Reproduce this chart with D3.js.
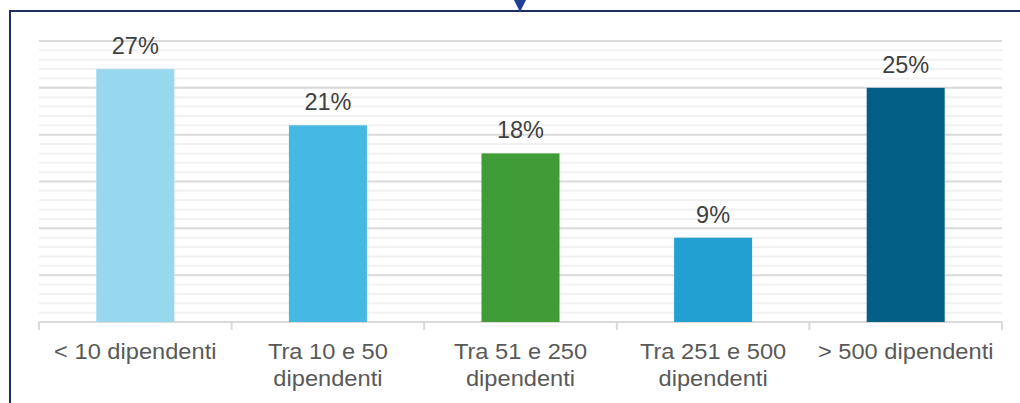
<!DOCTYPE html>
<html>
<head>
<meta charset="utf-8">
<script src="https://cdn.jsdelivr.net/npm/d3@7"></script>
<style>
  html, body { margin: 0; padding: 0; background: #ffffff; }
  svg { display: block; font-family: "Liberation Sans", Arial, sans-serif; }
</style>
</head>
<body>
<svg id="chart" width="1020" height="403"></svg>
<script>
// Company size bands (each label split into its display lines)
const categories = [
  ["< 10 dipendenti"],
  ["Tra 10 e 50", "dipendenti"],
  ["Tra 51 e 250", "dipendenti"],
  ["Tra 251 e 500", "dipendenti"],
  ["> 500 dipendenti"]
];
// Share of respondents per band
const values = [0.27, 0.21, 0.18, 0.09, 0.25];
const valueLabels = ["27%", "21%", "18%", "9%", "25%"];
const barColors = ["#98d8ef", "#45b9e3", "#3f9c36", "#22a0d1", "#035f85"];
// Gridline steps (1% minor, 5% major)
const gridTicks = d3.range(0, 31).map(d => d / 100);

const svg = d3.select("#chart");
const W = 1020, H = 403;
const plot = { left: 39, right: 1002, top: 41, bottom: 322 };

// Frame around the chart, with the pointer on its top edge
svg.append("path")
  .attr("d", `M1030,${11}H${10}V${H + 10}`)
  .attr("fill", "none")
  .attr("stroke", "#1e2f5e")
  .attr("stroke-width", 2);
svg.append("path")
  .attr("d", "M513.5,-1L526.5,-1L520,12Z")
  .attr("fill", "#1f3f99");

const x = d3.scaleBand()
  .domain(d3.range(categories.length))
  .range([plot.left, plot.right])
  .paddingInner(0.595)
  .paddingOuter(0.2975);

const y = d3.scaleLinear().domain([0, 0.30]).range([plot.bottom, plot.top]);

// Gridlines
svg.append("g")
  .selectAll("line")
  .data(gridTicks.filter(d => d > 0))
  .join("line")
  .attr("x1", plot.left)
  .attr("x2", plot.right)
  .attr("y1", d => y(d))
  .attr("y2", d => y(d))
  .attr("stroke", d => Math.round(d * 100) % 5 === 0 ? "#d9d9d9" : "#f1f1f1")
  .attr("stroke-width", 2);

// Category axis: baseline with boundary ticks
const bounds = d3.range(categories.length + 1).map(i =>
  plot.left + i * (plot.right - plot.left) / categories.length);
svg.append("line")
  .attr("x1", plot.left).attr("x2", plot.right)
  .attr("y1", plot.bottom).attr("y2", plot.bottom)
  .attr("stroke", "#d9d9d9").attr("stroke-width", 2);
svg.append("g")
  .selectAll("line")
  .data(bounds)
  .join("line")
  .attr("x1", d => d).attr("x2", d => d)
  .attr("y1", plot.bottom).attr("y2", plot.bottom + 8)
  .attr("stroke", "#d9d9d9").attr("stroke-width", 2);

// Bars
svg.append("g")
  .selectAll("rect")
  .data(values)
  .join("rect")
  .attr("x", (d, i) => x(i))
  .attr("width", x.bandwidth())
  .attr("y", d => y(d))
  .attr("height", d => y(0) - y(d))
  .attr("fill", (d, i) => barColors[i]);

// Value labels
svg.append("g")
  .selectAll("text")
  .data(values)
  .join("text")
  .attr("x", (d, i) => x(i) + x.bandwidth() / 2)
  .attr("y", d => y(d) - 15)
  .attr("text-anchor", "middle")
  .attr("font-size", 23.5)
  .attr("fill", "#404040")
  .text((d, i) => valueLabels[i]);

// Category labels
const catG = svg.append("g")
  .selectAll("g")
  .data(categories)
  .join("g")
  .attr("transform", (d, i) => `translate(${x(i) + x.bandwidth() / 2},0)`);
catG.selectAll("text")
  .data(d => d)
  .join("text")
  .attr("transform", (d, j) => `translate(0,${359 + j * 27}) scale(1.1,1)`)
  .attr("text-anchor", "middle")
  .attr("font-size", 21.5)
  .attr("fill", "#595959")
  .text(d => d);
</script>
</body>
</html>
